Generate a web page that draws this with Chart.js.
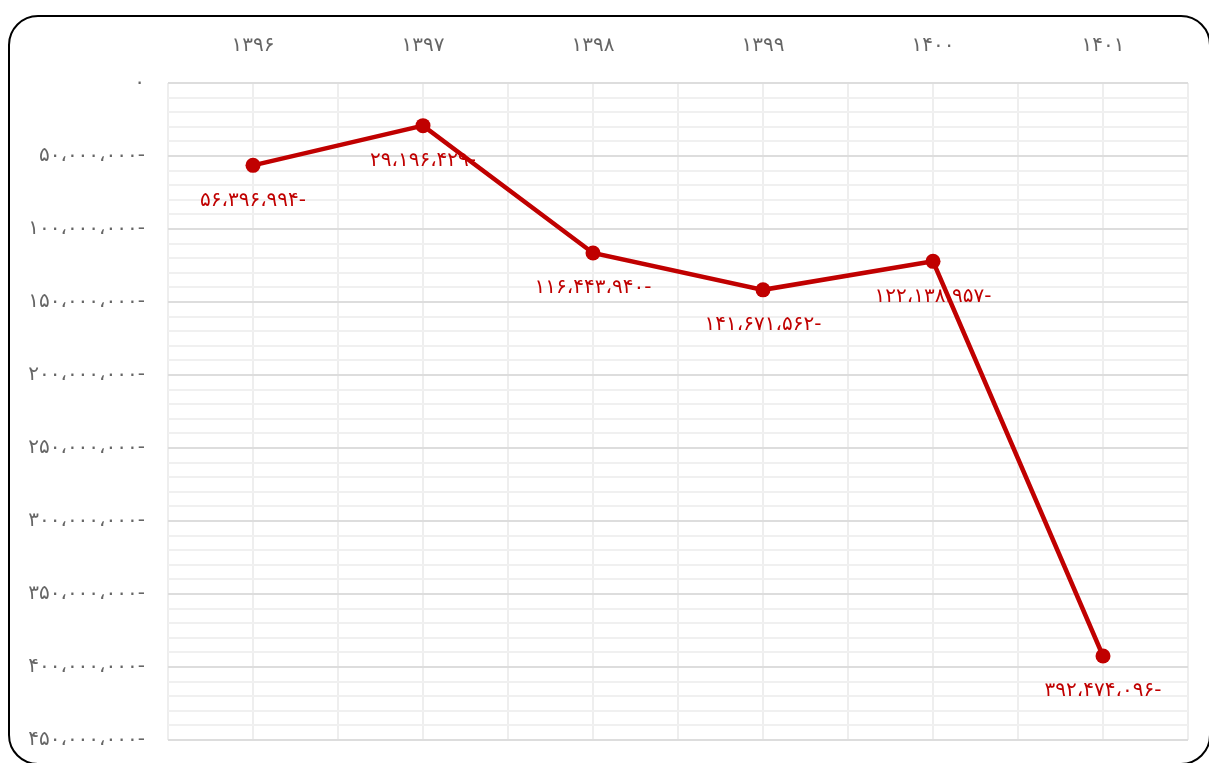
<!DOCTYPE html>
<html>
<head>
<meta charset="utf-8">
<script src="https://cdn.jsdelivr.net/npm/chart.js@4.4.0/dist/chart.umd.min.js"></script>
<style>
  html, body { margin: 0; padding: 0; background: #fff; overflow: hidden; }
  body { width: 1209px; height: 763px; position: relative; }
  .card {
    position: absolute; left: 8px; top: 15px; width: 1203px; height: 750px;
    box-sizing: border-box; border: 2px solid #000; border-radius: 30px;
  }
  #wrap { position: absolute; left: 0; top: 0; width: 1209px; height: 763px; }
</style>
</head>
<body>
<div class="card"></div>
<div id="wrap"><canvas id="chart"></canvas></div>
<script>
// سال‌ها و مقادیر
const years = ["۱۳۹۶", "۱۳۹۷", "۱۳۹۸", "۱۳۹۹", "۱۴۰۰", "۱۴۰۱"];
const values = [-56396994, -29196429, -116443940, -141671562, -122138957, -392474096];
const yMin = -450000000;
const yMax = 0;
const yStep = 10000000;
const yLabelStep = 50000000;

const red = "#c00000";
const fontFamily = "'DejaVu Sans', sans-serif";

// تبدیل عدد به رقم فارسی با جداکننده و منفی در انتها
function faNum(v) {
  const digits = "۰۱۲۳۴۵۶۷۸۹";
  const s = Math.abs(v).toString().replace(/\B(?=(\d{3})+(?!\d))/g, "،");
  const fa = s.replace(/\d/g, d => digits[d]);
  return v < 0 ? fa + "-" : fa;
}

const points = values.map((v, i) => ({ x: i, y: v }));

// برچسب مقادیر زیر هر نقطه
const valueLabels = {
  id: "valueLabels",
  afterDatasetsDraw(chart) {
    const ctx = chart.ctx;
    const meta = chart.getDatasetMeta(0);
    ctx.save();
    ctx.font = "20px " + fontFamily;
    ctx.fillStyle = red;
    ctx.textAlign = "center";
    ctx.textBaseline = "middle";
    meta.data.forEach((pt, i) => {
      ctx.fillText(faNum(values[i]), pt.x, pt.y + 35);
    });
    ctx.restore();
  }
};

new Chart(document.getElementById("chart"), {
  type: "line",
  data: {
    datasets: [{
      data: points,
      borderColor: red,
      backgroundColor: red,
      borderWidth: 4.5,
      pointRadius: 7.5,
      pointBorderWidth: 0,
      pointBackgroundColor: red,
      tension: 0
    }]
  },
  options: {
    responsive: true,
    maintainAspectRatio: false,
    animation: false,
    layout: { padding: { top: 0, right: 21, bottom: 23, left: 0 } },
    plugins: {
      legend: { display: false },
      tooltip: { enabled: false }
    },
    scales: {
      x: {
        type: "linear",
        position: "top",
        min: -0.5,
        max: 5.5,
        afterFit: s => { s.height = 83; s.paddingLeft = 0; s.paddingRight = 0; },
        ticks: {
          stepSize: 0.5,
          autoSkip: false,
          maxRotation: 0,
          padding: 25,
          color: "#666",
          font: { size: 20, family: fontFamily },
          callback: v => Number.isInteger(v) ? years[v] : ""
        },
        grid: { color: "#eeeeee", lineWidth: 2, drawTicks: false },
        border: { display: false }
      },
      y: {
        min: yMin,
        max: yMax,
        afterFit: s => { s.width = 168; s.paddingTop = 0; s.paddingBottom = 0; },
        ticks: {
          stepSize: yStep,
          autoSkip: false,
          padding: 23,
          color: "#666",
          font: { size: 20, family: fontFamily },
          callback: v => v % yLabelStep === 0 ? faNum(v) : ""
        },
        grid: {
          lineWidth: 2,
          drawTicks: false,
          color: c => c.tick && c.tick.value % yLabelStep === 0 ? "#dddddd" : "#f0f0f0"
        },
        border: { display: false }
      }
    }
  },
  plugins: [valueLabels]
});
</script>
</body>
</html>
